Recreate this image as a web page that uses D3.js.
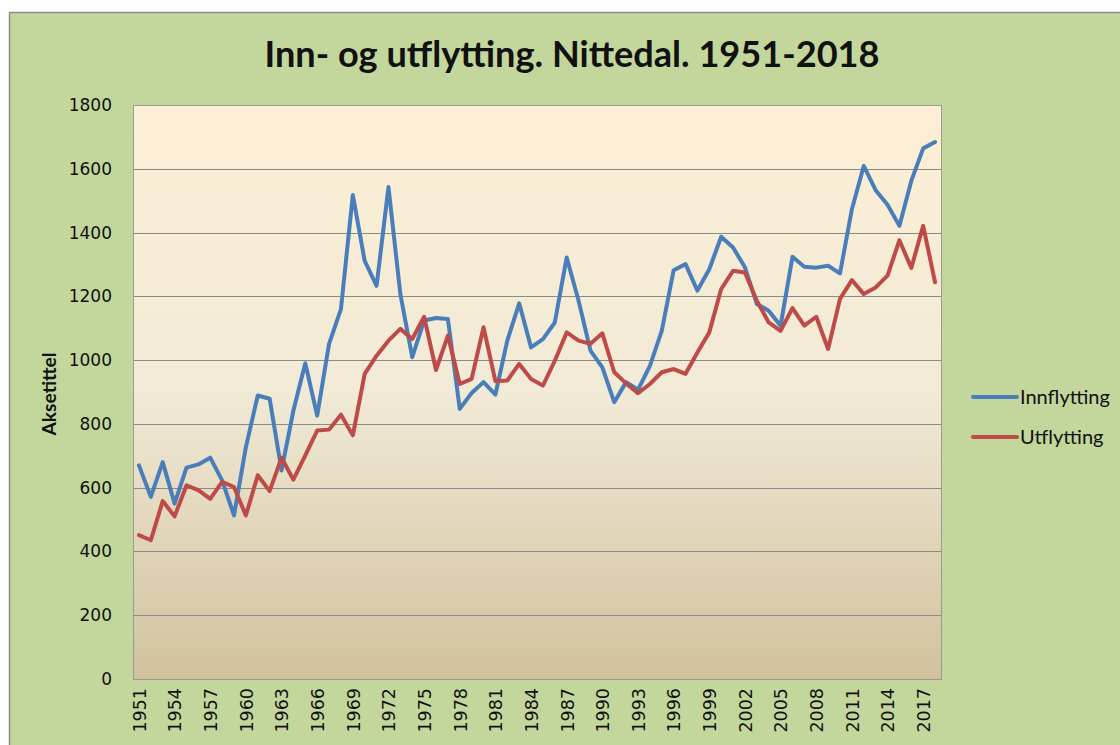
<!DOCTYPE html>
<html>
<head>
<meta charset="utf-8">
<script src="https://cdn.jsdelivr.net/npm/d3@7/dist/d3.min.js"></script>
<style>
  body { margin: 0; background: #fff; }
  svg { display: block; }
</style>
</head>
<body>
<div class="chart"></div>
<script>
// Inn- og utflytting, Nittedal 1951-2018

var years = d3.range(1951, 2019);

var innflytting = [
  670, 571, 680, 550, 663, 673, 694, 623, 513, 727,
  889, 879, 654, 842, 990, 826, 1051, 1160, 1518, 1311,
  1233, 1543, 1207, 1009, 1124, 1132, 1129, 847, 897, 931,
  892, 1061, 1178, 1040, 1066, 1118, 1322, 1186, 1030, 977,
  868, 931, 907, 982, 1092, 1282, 1301, 1218, 1285, 1387,
  1353, 1291, 1176, 1155, 1108, 1324, 1293, 1290, 1296, 1272,
  1473, 1609, 1533, 1487, 1421, 1562, 1664, 1684
];

var utflytting = [
  451, 435, 558, 510, 607, 592, 565, 618, 602, 513,
  639, 589, 694, 625, 701, 779, 782, 829, 764, 957,
  1014, 1061, 1098, 1066, 1136, 969, 1077, 925, 941, 1103,
  934, 936, 988, 941, 920, 998, 1087, 1061, 1051, 1084,
  962, 927, 896, 925, 962, 972, 957, 1024, 1087, 1223,
  1280, 1275, 1186, 1118, 1092, 1163, 1108, 1136, 1035, 1192,
  1251, 1207, 1228, 1265, 1376, 1289, 1421, 1244
];

var yTicks = [0, 200, 400, 600, 800, 1000, 1200, 1400, 1600, 1800];
var xTickYears = years.filter(function(y){ return (y - 1951) % 3 === 0; });

var series = [
  {name: 'Innflytting', values: innflytting, color: '#4A7EBB'},
  {name: 'Utflytting', values: utflytting, color: '#BE4B48'}
];

var W = 1120, H = 745;
var plot = {left: 133, right: 941, top: 105, bottom: 679};

var svg = d3.select('.chart').append('svg')
  .attr('width', W)
  .attr('height', H);

// gradient for plot area
var defs = svg.append('defs');
var grad = defs.append('linearGradient')
  .attr('id', 'plotBg')
  .attr('x1', 0).attr('y1', 0).attr('x2', 0).attr('y2', 1);
grad.append('stop').attr('offset', '0%').attr('stop-color', '#FDEFD5');
grad.append('stop').attr('offset', '50%').attr('stop-color', '#F1EAD6');
grad.append('stop').attr('offset', '100%').attr('stop-color', '#D1C19D');

// chart area
svg.append('rect')
  .attr('x', 9.5).attr('y', 12.5)
  .attr('width', W).attr('height', H)
  .attr('fill', '#C3D69B')
  .attr('stroke', '#8C8C8C')
  .attr('stroke-width', 1.5);

svg.append('rect')
  .attr('x', plot.left).attr('y', plot.top)
  .attr('width', plot.right - plot.left)
  .attr('height', plot.bottom - plot.top)
  .attr('fill', 'url(#plotBg)');

var x = d3.scalePoint()
  .domain(years)
  .range([plot.left, plot.right])
  .padding(0.5);

var y = d3.scaleLinear()
  .domain([0, 1800])
  .range([plot.bottom, plot.top]);

// gridlines
svg.append('g')
  .selectAll('line')
  .data(yTicks)
  .enter().append('line')
  .attr('x1', plot.left).attr('x2', plot.right)
  .attr('y1', function(d){ return Math.round(y(d)) + 0.5; })
  .attr('y2', function(d){ return Math.round(y(d)) + 0.5; })
  .attr('stroke', '#8A8A8A')
  .attr('stroke-width', 1);

// plot border
svg.append('rect')
  .attr('x', plot.left + 0.5).attr('y', plot.top + 0.5)
  .attr('width', plot.right - plot.left)
  .attr('height', plot.bottom - plot.top)
  .attr('fill', 'none')
  .attr('stroke', '#9A9A9A');

// y axis
var yAxis = svg.append('g')
  .attr('transform', 'translate(' + plot.left + ',0)')
  .call(d3.axisLeft(y).tickValues(yTicks).tickFormat(d3.format('d')).tickSize(0).tickPadding(21));
yAxis.select('.domain').remove();
yAxis.selectAll('text')
  .style('font-family', 'DejaVu Sans')
  .style('font-size', '17px')
  .attr('fill', '#111');

// x axis
var xAxis = svg.append('g')
  .attr('transform', 'translate(0,' + plot.bottom + ')')
  .call(d3.axisBottom(x).tickValues(xTickYears).tickSize(0));
xAxis.select('.domain').remove();
xAxis.selectAll('text')
  .attr('transform', 'rotate(-90)')
  .attr('x', -9)
  .attr('y', 0)
  .attr('dy', '0.36em')
  .style('text-anchor', 'end')
  .style('font-family', 'DejaVu Sans')
  .style('font-size', '17.5px')
  .attr('fill', '#111');

// lines
var line = d3.line()
  .x(function(d, i){ return x(years[i]); })
  .y(function(d){ return y(d); });

svg.append('g')
  .selectAll('path')
  .data(series)
  .enter().append('path')
  .attr('d', function(s){ return line(s.values); })
  .attr('fill', 'none')
  .attr('stroke', function(s){ return s.color; })
  .attr('stroke-width', 4)
  .attr('stroke-linejoin', 'round')
  .attr('stroke-linecap', 'round');

// title
svg.append('text')
  .attr('x', 572)
  .attr('y', 67)
  .attr('text-anchor', 'middle')
  .attr('textLength', 615)
  .attr('lengthAdjust', 'spacingAndGlyphs')
  .style('font-family', 'Lato')
  .style('font-weight', 'bold')
  .style('font-size', '37px')
  .attr('fill', '#111')
  .text('Inn- og utflytting. Nittedal. 1951-2018');

// y axis title
svg.append('text')
  .attr('transform', 'translate(56,394) rotate(-90)')
  .attr('text-anchor', 'middle')
  .attr('textLength', 83)
  .attr('lengthAdjust', 'spacingAndGlyphs')
  .style('font-family', 'Lato')
  .style('font-weight', 'bold')
  .style('font-size', '19px')
  .attr('fill', '#111')
  .text('Aksetittel');

// legend
var legend = svg.append('g')
  .selectAll('g')
  .data(series)
  .enter().append('g')
  .attr('transform', function(s, i){ return 'translate(973,' + (397 + i * 40) + ')'; });

legend.append('line')
  .attr('x1', 0).attr('x2', 44)
  .attr('y1', 0).attr('y2', 0)
  .attr('stroke', function(s){ return s.color; })
  .attr('stroke-width', 4)
  .attr('stroke-linecap', 'round');

legend.append('text')
  .attr('x', 47)
  .attr('y', 0)
  .attr('dy', '0.35em')
  .style('font-family', 'Lato')
  .style('font-size', '20px')
  .attr('fill', '#111')
  .text(function(s){ return s.name; });
</script>
</body>
</html>
